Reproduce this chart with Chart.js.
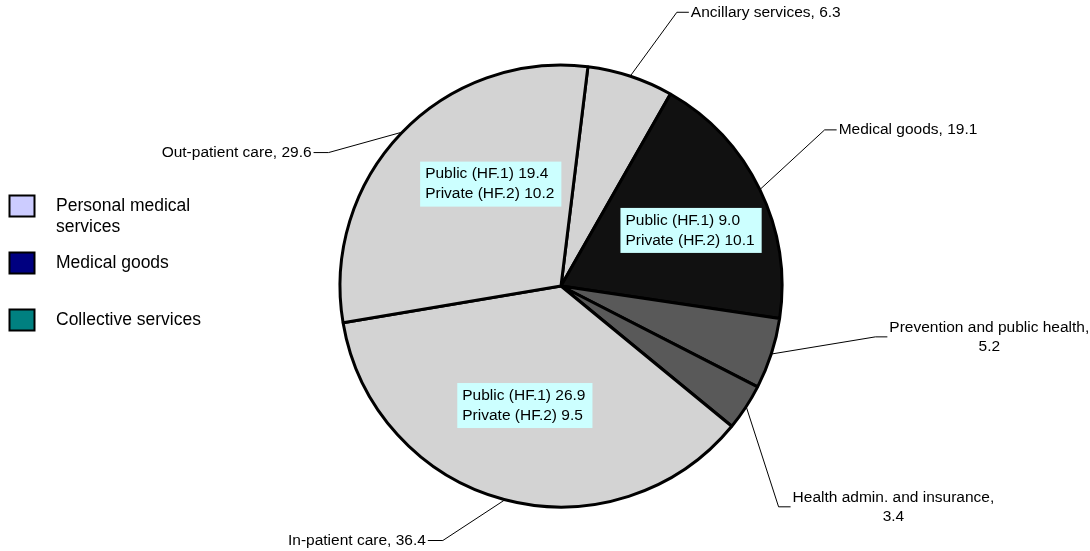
<!DOCTYPE html>
<html>
<head>
<meta charset="utf-8">
<script src="https://cdn.jsdelivr.net/npm/chart.js@4.4.0/dist/chart.umd.min.js"></script>
<style>
  html, body { margin: 0; padding: 0; background: #fff; }
</style>
</head>
<body>
<canvas id="myChart" width="1090" height="551"></canvas>
<script>
// Data
const categories = ['Ancillary services', 'Medical goods', 'Prevention and public health', 'Health admin. and insurance', 'In-patient care', 'Out-patient care'];
const shares = [6.3, 19.1, 5.2, 3.4, 36.4, 29.6];
const publicShares = [null, 9.0, null, null, 26.9, 19.4];
const privateShares = [null, 10.1, null, null, 9.5, 10.2];
const legendLabels = [['Personal medical', 'services'], ['Medical goods'], ['Collective services']];
const legendColors = ['#ccccff', '#000080', '#008080'];

// Style
const sliceColors = ['#d3d3d3', '#111111', '#595959', '#595959', '#d3d3d3', '#d3d3d3'];
const elbows = [[46, -63], [64, -59], [103, -17], [32, 99], [-61, 40], [-72, 20]]; // leader line bend, from slice edge
const boxPlace = [null, [2.8, 0.64], null, null, [1.9, 0.565], [11.7, 0.56]]; // angle shift (deg), radius fraction
const FONT = '"Liberation Sans", Arial, sans-serif';

const calloutPlugin = {
    id: 'callouts',
    afterDatasetsDraw(chart) {
        const ctx = chart.ctx;
        const arcs = chart.getDatasetMeta(0).data;
        ctx.save();
        ctx.font = '15.5px ' + FONT;
        ctx.textBaseline = 'middle';
        arcs.forEach((arc, i) => {
            const p = arc.getProps(['x', 'y', 'startAngle', 'endAngle', 'outerRadius'], true);
            const mid = (p.startAngle + p.endAngle) / 2;

            // inner box with public / private split
            if (boxPlace[i]) {
                const a = mid + boxPlace[i][0] * Math.PI / 180;
                const r = p.outerRadius * boxPlace[i][1];
                const cx = p.x + Math.cos(a) * r;
                const cy = p.y + Math.sin(a) * r;
                const lines = ['Public (HF.1) ' + publicShares[i].toFixed(1), 'Private (HF.2) ' + privateShares[i].toFixed(1)];
                const w = Math.max(...lines.map(l => ctx.measureText(l).width)) + 12;
                const h = 45;
                ctx.fillStyle = '#ccffff';
                ctx.fillRect(cx - w / 2, cy - h / 2, w, h);
                ctx.fillStyle = '#000';
                ctx.textAlign = 'left';
                ctx.fillText(lines[0], cx - w / 2 + 5, cy - 10);
                ctx.fillText(lines[1], cx - w / 2 + 5, cy + 10);
            }

            // outer label with leader line
            const ax = p.x + Math.cos(mid) * (p.outerRadius + 1);
            const ay = p.y + Math.sin(mid) * (p.outerRadius + 1);
            const ex = ax + elbows[i][0];
            const ey = ay + elbows[i][1];
            const right = elbows[i][0] > 0;
            const tx = ex + (right ? 12 : -15);
            ctx.strokeStyle = '#000';
            ctx.lineWidth = 1;
            ctx.beginPath();
            ctx.moveTo(ax, ay);
            ctx.lineTo(ex, ey);
            ctx.lineTo(tx, ey);
            ctx.stroke();

            ctx.fillStyle = '#000';
            const full = categories[i] + ', ' + shares[i].toFixed(1);
            if (ctx.measureText(full).width <= 200) {
                ctx.textAlign = right ? 'left' : 'right';
                ctx.fillText(full, tx + (right ? 2 : -2), ey);
            } else {
                const lines = [categories[i] + ',', shares[i].toFixed(1)];
                const w = Math.max(...lines.map(l => ctx.measureText(l).width));
                const cx = right ? tx + 2 + w / 2 : tx - 2 - w / 2;
                ctx.textAlign = 'center';
                ctx.fillText(lines[0], cx, ey - 9.5);
                ctx.fillText(lines[1], cx, ey + 9.5);
            }
        });
        ctx.restore();
    }
};

const legendPlugin = {
    id: 'sideLegend',
    afterDraw(chart) {
        const ctx = chart.ctx;
        ctx.save();
        ctx.font = '17.5px ' + FONT;
        ctx.textBaseline = 'middle';
        ctx.textAlign = 'left';
        legendLabels.forEach((lines, i) => {
            const cy = 206 + i * 57;
            ctx.fillStyle = legendColors[i];
            ctx.fillRect(9.5, cy - 10.5, 25, 21);
            ctx.strokeStyle = '#000';
            ctx.lineWidth = 2;
            ctx.strokeRect(9.5, cy - 10.5, 25, 21);
            ctx.fillStyle = '#000';
            lines.forEach((l, k) => ctx.fillText(l, 56, cy + k * 21));
        });
        ctx.restore();
    }
};

const canvas = document.getElementById('myChart');
const myChart = new Chart(canvas, {
    type: 'pie',
    data: {
        labels: categories,
        datasets: [{
            data: shares,
            backgroundColor: sliceColors,
            borderColor: '#000',
            borderWidth: 3,
            radius: 221
        }]
    },
    options: {
        responsive: false,
        animation: false,
        rotation: 7,
        layout: { padding: { left: 332, right: 300, top: 41, bottom: 20 } },
        plugins: {
            legend: { display: false },
            tooltip: { enabled: false }
        }
    },
    plugins: [calloutPlugin, legendPlugin]
});
</script>
</body>
</html>
